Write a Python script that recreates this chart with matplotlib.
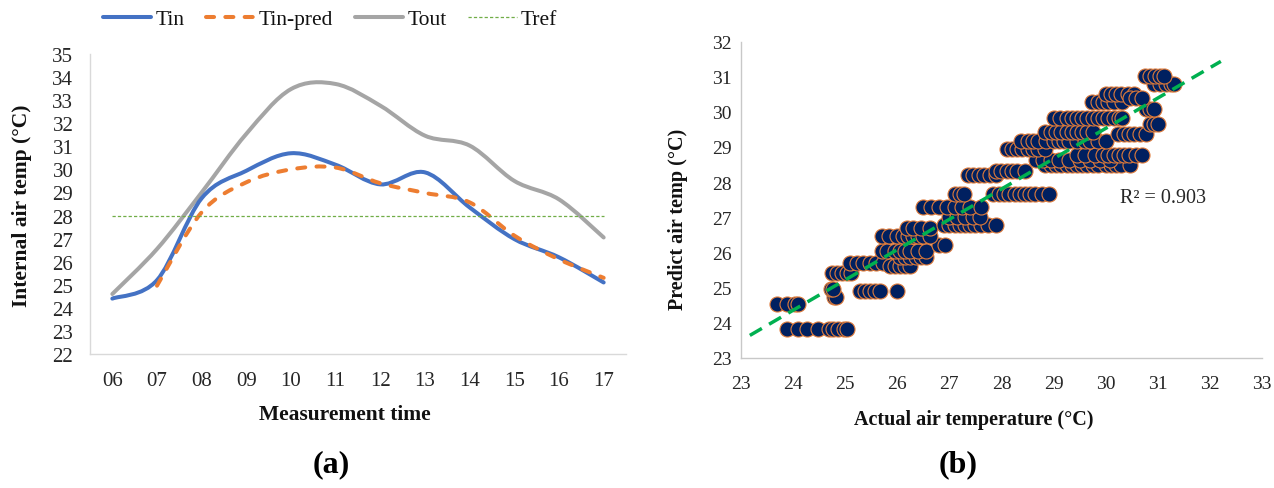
import numpy as np
import matplotlib
matplotlib.use("Agg")
import matplotlib.pyplot as plt
from matplotlib.path import Path
from matplotlib.patches import PathPatch
from matplotlib.lines import Line2D

plt.rcParams['font.family'] = ['Liberation Serif', 'DejaVu Serif']

# ---------------- (a) hourly temperatures ----------------
hours = ['06', '07', '08', '09', '10', '11', '12', '13', '14', '15', '16', '17']
t_in = [24.4, 25.2, 28.75, 29.94, 30.7, 30.2, 29.35, 29.87, 28.35, 26.98, 26.19, 25.1]
t_in_pred = [None, 24.96, 28.14, 29.44, 30.0, 30.08, 29.4, 28.98, 28.57, 27.13, 26.1, 25.3]
t_out = [24.6, 26.55, 29.0, 31.54, 33.48, 33.7, 32.76, 31.46, 31.03, 29.5, 28.7, 27.05]
t_ref = [28] * len(hours)

# ---------------- (b) actual vs predicted ----------------
pred_levels = [23.82, 24.53, 24.73, 24.96, 24.91, 25.43, 25.70, 25.62, 25.86, 26.05,
               26.22, 26.47, 26.71, 26.77, 27.00, 27.28, 27.67, 28.20, 28.33, 28.49,
               28.62, 28.76, 28.95, 29.18, 29.42, 29.37, 29.66, 29.82, 30.08, 30.29,
               30.50, 30.40, 30.79, 31.03]
actual_rows = [
    [23.89, 24.10, 24.27, 24.48, 24.68, 24.77, 24.87, 24.97, 25.03],
    [23.69, 23.88, 24.04, 24.10],
    [24.78, 24.82],
    [24.72, 24.77],
    [25.28, 25.38, 25.48, 25.57, 25.67, 25.99],
    [24.74, 24.85, 24.93, 25.03, 25.12],
    [25.09, 25.22, 25.35, 25.48, 25.60, 25.73],
    [25.86, 25.95, 26.05, 26.15, 26.24],
    [26.05, 26.15, 26.25, 26.35, 26.45, 26.56],
    [25.70, 25.80, 25.95, 26.05, 26.15, 26.25, 26.40, 26.55],
    [26.80, 26.92],
    [25.70, 25.85, 26.00, 26.10, 26.20, 26.30, 26.40, 26.50, 26.63],
    [26.18, 26.30, 26.45, 26.63],
    [26.90, 27.00, 27.10, 27.20, 27.30, 27.40, 27.50, 27.60, 27.75, 27.90],
    [27.00, 27.15, 27.30, 27.45, 27.59],
    [26.50, 26.65, 26.80, 26.95, 27.10, 27.25, 27.40, 27.60],
    [27.10, 27.20, 27.28, 27.83, 27.95, 28.05, 28.15, 28.25, 28.35, 28.45, 28.55, 28.65, 28.78, 28.91],
    [27.36, 27.46, 27.56, 27.66, 27.78, 27.90],
    [27.90, 28.00, 28.10, 28.20, 28.30, 28.45],
    [28.83, 28.95, 29.05, 29.15, 29.25, 29.35, 29.45, 29.55, 29.65, 29.75, 29.85, 30.00, 30.10, 30.20, 30.30, 30.46],
    [28.67, 28.80, 28.95, 29.10, 29.30, 29.50, 29.70, 29.90, 30.08],
    [29.45, 29.60, 29.80, 29.95, 30.05, 30.15, 30.25, 30.35, 30.45, 30.58, 30.70],
    [28.10, 28.20, 28.30, 28.40, 28.50, 28.60, 28.70, 28.83],
    [28.37, 28.50, 28.60, 28.70, 28.85, 29.00, 29.10, 29.20, 29.30, 29.45, 29.60, 29.70, 29.85, 30.00],
    [28.83, 28.95, 29.05, 29.15, 29.25, 29.35, 29.45, 29.55, 29.65, 29.76],
    [30.23, 30.35, 30.45, 30.55, 30.65, 30.77],
    [30.85, 30.93, 31.00],
    [29.00, 29.12, 29.25, 29.35, 29.45, 29.55, 29.65, 29.75, 29.85, 29.95, 30.05, 30.15, 30.25, 30.31],
    [30.77, 30.85, 30.93],
    [29.73, 29.85, 29.95, 30.05, 30.15, 30.31],
    [30.00, 30.10, 30.20, 30.30, 30.42, 30.54],
    [30.47, 30.58, 30.70],
    [30.93, 31.05, 31.15, 31.25, 31.32],
    [30.75, 30.85, 30.95, 31.05, 31.12],
]
trend_slope = 0.862
trend_intercept = 3.67
trend_range = [23.17, 32.21]
r_squared = 0.903

# ---------------- figure ----------------
W, H = 1274, 489
fig = plt.figure(figsize=(W / 100, H / 100), dpi=100)


def px_rect(x0, y0, x1, y1):
    return [x0 / W, 1 - y1 / H, (x1 - x0) / W, (y1 - y0) / H]


def smooth_path(xs, ys):
    """Cubic Bezier through the points (Catmull-Rom style control points)."""
    pts = np.column_stack([xs, ys]).astype(float)
    n = len(pts)
    verts = [pts[0]]
    codes = [Path.MOVETO]
    for i in range(n - 1):
        p0 = pts[i - 1] if i > 0 else pts[i]
        p1 = pts[i]
        p2 = pts[i + 1]
        p3 = pts[i + 2] if i + 2 < n else pts[i + 1]
        verts += [p1 + (p2 - p0) / 6.0, p2 - (p3 - p1) / 6.0, p2]
        codes += [Path.CURVE4] * 3
    return Path(verts, codes)


tick_col = '#262626'
spine_col = '#D9D9D9'

# ---- panel (a)
axa = fig.add_axes(px_rect(90, 55, 626, 355))
x = np.arange(len(hours))

c_in, c_pred, c_out, c_ref = '#4472C4', '#ED7D31', '#A5A5A5', '#70AD47'
lw_main = 2.9
pred_dash = (0, (2.0, 2.8))

axa.add_patch(PathPatch(smooth_path(x, t_out), fill=False, edgecolor=c_out,
                        lw=lw_main, capstyle='round', joinstyle='round', zorder=2))
axa.add_patch(PathPatch(smooth_path(x, t_in), fill=False, edgecolor=c_in,
                        lw=lw_main, capstyle='round', joinstyle='round', zorder=3))
pred_idx = [i for i, v in enumerate(t_in_pred) if v is not None]
axa.add_patch(PathPatch(smooth_path(x[pred_idx], [t_in_pred[i] for i in pred_idx]),
                        fill=False, edgecolor=c_pred, lw=lw_main, linestyle=pred_dash,
                        capstyle='round', joinstyle='round', zorder=4))
axa.plot(x, t_ref, color=c_ref, lw=0.9, linestyle=(0, (2.6, 1.7)), zorder=5)

axa.set_xlim(-0.5, len(hours) - 0.5)
axa.set_ylim(22, 35)
axa.set_yticks(np.arange(22, 36, 1))
axa.set_xticks(x)
axa.set_xticklabels(hours)
for s in ['top', 'right']:
    axa.spines[s].set_visible(False)
for s in ['left', 'bottom']:
    axa.spines[s].set_color(spine_col)
    axa.spines[s].set_linewidth(1.0)
axa.tick_params(axis='y', length=0, pad=12, labelsize=15, labelcolor=tick_col)
axa.tick_params(axis='x', length=0, pad=12, labelsize=15, labelcolor=tick_col)

fig.text(22 / W, 1 - 206 / H, 'Internal air temp (°C)', rotation=90, ha='center',
         va='center', fontsize=15.5, fontweight='bold', color='#111111')
fig.text(345 / W, 1 - 415 / H, 'Measurement time', ha='center', va='center',
         fontsize=15.5, fontweight='bold', color='#111111')

handles = [
    Line2D([], [], color=c_in, lw=lw_main, solid_capstyle='round'),
    Line2D([], [], color=c_pred, lw=lw_main, linestyle=pred_dash, dash_capstyle='round'),
    Line2D([], [], color=c_out, lw=lw_main, solid_capstyle='round'),
    Line2D([], [], color=c_ref, lw=0.9, linestyle=(0, (2.6, 1.7))),
]
fig.legend(handles, ['Tin', 'Tin-pred', 'Tout', 'Tref'], loc='center',
           bbox_to_anchor=(330 / W, 1 - 20 / H), ncol=4, frameon=False,
           fontsize=15.5, handlelength=2.25, handletextpad=0.2, columnspacing=1.0,
           labelcolor='#111111')

# ---- panel (b)
axb = fig.add_axes(px_rect(741, 42.5, 1262, 359))
act = np.concatenate([np.asarray(r, float) for r in actual_rows])
pred = np.concatenate([np.full(len(r), lv) for r, lv in zip(actual_rows, pred_levels)])
axb.scatter(act, pred, s=117, c='#002060', edgecolors='#E07B39', linewidths=0.8, zorder=2)

tx = np.array(trend_range)
axb.plot(tx, trend_slope * tx + trend_intercept, color='#00B050', lw=2.5,
         linestyle=(0, (4.0, 2.4)), zorder=3)
axb.text(30.27, 27.57, f'R² = {r_squared:.3f}', fontsize=14.5, ha='left', va='center',
         color='#262626')

axb.set_xlim(23, 33)
axb.set_ylim(23, 32)
axb.set_xticks(np.arange(23, 34, 1))
axb.set_yticks(np.arange(23, 33, 1))
for s in ['top', 'right']:
    axb.spines[s].set_visible(False)
for s in ['left', 'bottom']:
    axb.spines[s].set_color('#C8C8C8')
    axb.spines[s].set_linewidth(1.0)
axb.tick_params(axis='y', length=0, pad=7, labelsize=14, labelcolor=tick_col)
axb.tick_params(axis='x', length=0, pad=12, labelsize=14, labelcolor=tick_col)

fig.text(678 / W, 1 - 219 / H, 'Predict air temp (°C)', rotation=90, ha='center',
         va='center', fontsize=14.5, fontweight='bold', color='#111111')
fig.text(974 / W, 1 - 420 / H, 'Actual air temperature (°C)', ha='center', va='center',
         fontsize=14.5, fontweight='bold', color='#111111')

fig.text(331 / W, 1 - 465 / H, '(a)', ha='center', va='center', fontsize=23,
         fontweight='bold', color='black')
fig.text(958 / W, 1 - 465 / H, '(b)', ha='center', va='center', fontsize=23,
         fontweight='bold', color='black')

fig.savefig('out.png', dpi=100, facecolor='white')
